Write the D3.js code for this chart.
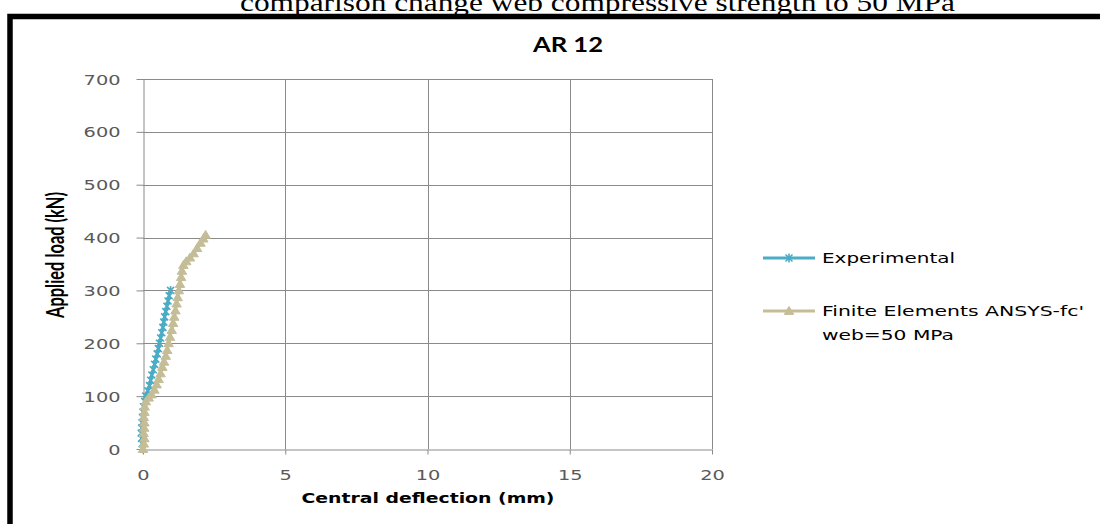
<!DOCTYPE html>
<html>
<head>
<meta charset="utf-8">
<script src="https://cdn.jsdelivr.net/npm/d3@7"></script>
<style>
  body { margin: 0; background: #ffffff; }
  svg { display: block; }
</style>
</head>
<body>
<svg id="chart" width="1100" height="524"></svg>
<script>
// Axis ticks
const xTicks = [0, 5, 10, 15, 20];
const yTicks = [0, 100, 200, 300, 400, 500, 600, 700];

// Experimental load–deflection curve (mm, kN)
const expDeflection = [0.00, -0.03, -0.05, -0.06, -0.04, -0.03, -0.02, 0.00, 0.02, 0.06, 0.10,
  0.17, 0.23, 0.27, 0.31, 0.36, 0.41, 0.45, 0.50, 0.54, 0.58, 0.62, 0.66, 0.70, 0.73,
  0.76, 0.80, 0.84, 0.88, 0.92, 0.97];
const expLoad = [0, 10, 20, 30, 40, 50, 60, 70, 80, 90, 100,
  110, 120, 130, 140, 150, 160, 170, 180, 190, 200, 210, 220, 230, 240,
  250, 260, 270, 280, 290, 300];

// Finite element (ANSYS, fc' web = 50 MPa) curve (mm, kN)
const feDeflection = [0.00, 0.03, 0.05, 0.02, 0.04, 0.05, 0.03, 0.05, 0.06, 0.10, 0.20,
  0.30, 0.40, 0.48, 0.55, 0.62, 0.68, 0.74, 0.80, 0.85, 0.90, 0.95, 1.01, 1.06, 1.10,
  1.14, 1.18, 1.22, 1.26, 1.30, 1.34, 1.37, 1.42, 1.52, 1.65, 1.78, 1.90, 2.02, 2.12, 2.20];
const feLoad = [0, 10, 20, 30, 40, 50, 60, 70, 80, 90, 97,
  103, 112, 122, 132, 143, 155, 165, 176, 187, 200, 212, 225, 238, 250,
  262, 275, 287, 300, 312, 325, 337, 348, 355, 362, 370, 380, 390, 398, 405];

// Labels
const headline = "comparison change web compressive strength to 50 MPa";
const chartTitle = "AR 12";
const xTitle = "Central deflection (mm)";
const yTitle = "Applied load (kN)";
const legendLabels = [["Experimental"], ["Finite Elements ANSYS-fc'", "web=50 MPa"]];

const colors = { exp: "#4BACC6", fe: "#C4BD97", grid: "#8a8a8a", text: "#595959" };

const svg = d3.select("#chart");

const x = d3.scaleLinear().domain([0, 20]).range([143, 712]);
const y = d3.scaleLinear().domain([0, 700]).range([449, 79]);

// Page heading above the framed chart (runs off the top edge)
svg.append("text")
  .attr("x", 240).attr("y", 11)
  .attr("font-family", "Liberation Serif, serif")
  .attr("font-size", 26)
  .attr("textLength", 715).attr("lengthAdjust", "spacingAndGlyphs")
  .attr("fill", "#000")
  .text(headline);

// Heavy frame around the chart
svg.append("rect")
  .attr("x", 10).attr("y", 16.5)
  .attr("width", 1200).attr("height", 600)
  .attr("fill", "none").attr("stroke", "#000").attr("stroke-width", 5.5);

// Chart title
svg.append("text")
  .attr("x", 568).attr("y", 52)
  .attr("text-anchor", "middle")
  .attr("font-family", "Lato, sans-serif").attr("font-weight", "bold")
  .attr("font-size", 21)
  .attr("textLength", 70).attr("lengthAdjust", "spacingAndGlyphs")
  .attr("fill", "#000")
  .text(chartTitle);

// Gridlines
const grid = svg.append("g").attr("stroke", colors.grid).attr("stroke-width", 1).attr("shape-rendering", "crispEdges");
grid.selectAll(".hg").data(yTicks.filter(d => d > 0)).join("line")
  .attr("x1", x(0)).attr("x2", x(20))
  .attr("y1", d => Math.round(y(d)) + 0.5).attr("y2", d => Math.round(y(d)) + 0.5);
grid.selectAll(".vg").data(xTicks.filter(d => d > 0)).join("line")
  .attr("y1", y(0)).attr("y2", y(700))
  .attr("x1", d => Math.round(x(d)) + 0.5).attr("x2", d => Math.round(x(d)) + 0.5);

// Axes
const xAxis = d3.axisBottom(x).tickValues(xTicks).tickSize(5).tickPadding(9).tickSizeOuter(0);
const yAxis = d3.axisLeft(y).tickValues(yTicks).tickSize(7).tickPadding(16).tickSizeOuter(0);

const gx = svg.append("g").attr("transform", `translate(0,${Math.round(y(0)) + 0.5})`).call(xAxis);
const gy = svg.append("g").attr("transform", `translate(${Math.round(x(0)) + 0.5},0)`).call(yAxis);

[gx, gy].forEach(g => {
  g.select(".domain").attr("stroke", colors.grid);
  g.selectAll(".tick line").attr("stroke", colors.grid);
  g.selectAll(".tick text")
    .attr("font-family", "DejaVu Sans, Verdana, sans-serif")
    .attr("font-size", 14)
    .attr("fill", colors.text)
    .attr("lengthAdjust", "spacingAndGlyphs")
    .attr("textLength", function () { return this.textContent.length * 12.3; });
});
gx.selectAll(".tick text").attr("dy", "0.71em").attr("y", 21);
gy.selectAll(".tick text").attr("dy", "0.36em");

// Axis titles
svg.append("text")
  .attr("x", 428).attr("y", 503)
  .attr("text-anchor", "middle")
  .attr("font-family", "DejaVu Sans, Verdana, sans-serif").attr("font-weight", "bold")
  .attr("font-size", 14)
  .attr("textLength", 253).attr("lengthAdjust", "spacingAndGlyphs")
  .attr("fill", "#000")
  .text(xTitle);

svg.append("text")
  .attr("transform", "translate(64,255) scale(1.5,1) rotate(-90)")
  .attr("text-anchor", "middle")
  .attr("font-family", "Lato, sans-serif").attr("font-weight", "bold")
  .attr("font-size", 17)
  .attr("textLength", 126).attr("lengthAdjust", "spacingAndGlyphs")
  .attr("fill", "#000")
  .text(yTitle);

// Marker shapes
const starPath = r => `M${-r},${-r}L${r},${r}M${-r},${r}L${r},${-r}M0,${-r - 1}L0,${r + 1}`;
const triPath = r => `M0,${-r}L${r * 1.05},${r * 0.75}L${-r * 1.05},${r * 0.75}Z`;

const line = d3.line().x(d => x(d[0])).y(d => y(d[1]));

function drawSeries(xs, ys, color, marker) {
  const pts = xs.map((v, i) => [v, ys[i]]);
  const g = svg.append("g");
  g.append("path").datum(pts)
    .attr("d", line)
    .attr("fill", "none").attr("stroke", color).attr("stroke-width", 3)
    .attr("stroke-linejoin", "round");
  g.selectAll("path.m").data(pts).join("path")
    .attr("class", "m")
    .attr("transform", d => `translate(${x(d[0])},${y(d[1])})`)
    .attr("d", marker === "star" ? starPath(3.5) : triPath(4.5))
    .attr("fill", marker === "star" ? "none" : color)
    .attr("stroke", color).attr("stroke-width", marker === "star" ? 1.6 : 1);
}

drawSeries(expDeflection, expLoad, colors.exp, "star");
drawSeries(feDeflection, feLoad, colors.fe, "tri");

// Legend
const legend = svg.append("g");
const legendRows = [
  { color: colors.exp, marker: "star", y: 258, lines: legendLabels[0] },
  { color: colors.fe, marker: "tri", y: 311, lines: legendLabels[1] }
];
const labelWidths = { "Experimental": 133, "Finite Elements ANSYS-fc'": 262, "web=50 MPa": 132 };
legendRows.forEach(r => {
  legend.append("line")
    .attr("x1", 763).attr("x2", 815).attr("y1", r.y).attr("y2", r.y)
    .attr("stroke", r.color).attr("stroke-width", 3);
  legend.append("path")
    .attr("transform", `translate(789,${r.y})`)
    .attr("d", r.marker === "star" ? starPath(3.5) : triPath(4.5))
    .attr("fill", r.marker === "star" ? "none" : r.color)
    .attr("stroke", r.color).attr("stroke-width", r.marker === "star" ? 1.6 : 1);
  r.lines.forEach((t, i) => {
    legend.append("text")
      .attr("x", 822).attr("y", r.y + 5 + i * 24)
      .attr("font-family", "DejaVu Sans, Verdana, sans-serif")
      .attr("font-size", 14)
      .attr("textLength", labelWidths[t]).attr("lengthAdjust", "spacingAndGlyphs")
      .attr("fill", "#000")
      .text(t);
  });
});
</script>
</body>
</html>
